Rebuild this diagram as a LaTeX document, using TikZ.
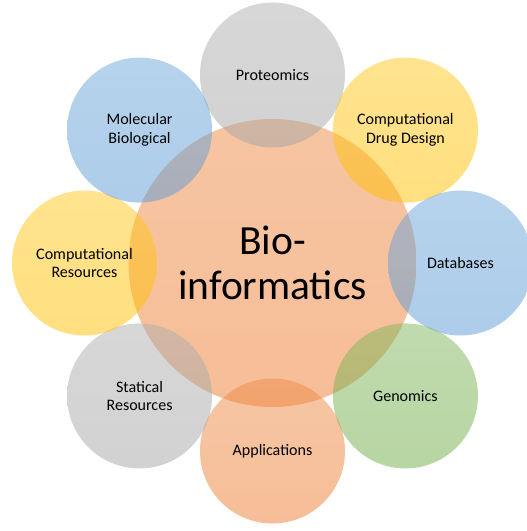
\documentclass[tikz,border=0pt]{standalone}
\usepackage{fontspec}
\setmainfont{Carlito}
\definecolor{BioOrange}{HTML}{ED7D31}
\definecolor{BioGray}{HTML}{A5A5A5}
\definecolor{BioYellow}{HTML}{FFC000}
\definecolor{BioBlue}{HTML}{5B9BD5}
\definecolor{BioGreen}{HTML}{70AD47}
\tikzset{
  hub/.style={circle, minimum size=7.2cm, inner sep=0pt, top color=BioOrange!90!white, bottom color=BioOrange, fill opacity=0.5, text opacity=1, align=center, font=\fontsize{29.5}{32.5}\selectfont},
  topic/.style={circle, minimum size=3.625cm, inner sep=0pt, top color=#1!88!white, bottom color=#1, fill opacity=0.5, text opacity=1, align=center, font=\fontsize{11.4}{13.2}\selectfont}
}

\begin{document}
\begin{tikzpicture}
    \useasboundingbox (-6.8125,-6.7) rectangle (6.3625,6.575);
    \node[hub] (bio) at (0,0) {Bio-\\informatics};
    % ring of topics, 4.7cm from the hub
    \node[topic=BioGray] (proteomics) at (90:4.7) {Proteomics};
    \node[topic=BioYellow] (drug) at (45:4.7) {Computational\\Drug Design};
    \node[topic=BioBlue] (databases) at (0:4.7) {Databases};
    \node[topic=BioGreen] (genomics) at (-45:4.7) {Genomics};
    \node[topic=BioOrange] (applications) at (-90:4.7) {Applications};
    \node[topic=BioGray] (statical) at (-135:4.7) {Statical\\Resources};
    \node[topic=BioYellow] (resources) at (180:4.7) {Computational\\Resources};
    \node[topic=BioBlue] (molecular) at (135:4.7) {Molecular\\Biological};
  \end{tikzpicture}
\end{document}
